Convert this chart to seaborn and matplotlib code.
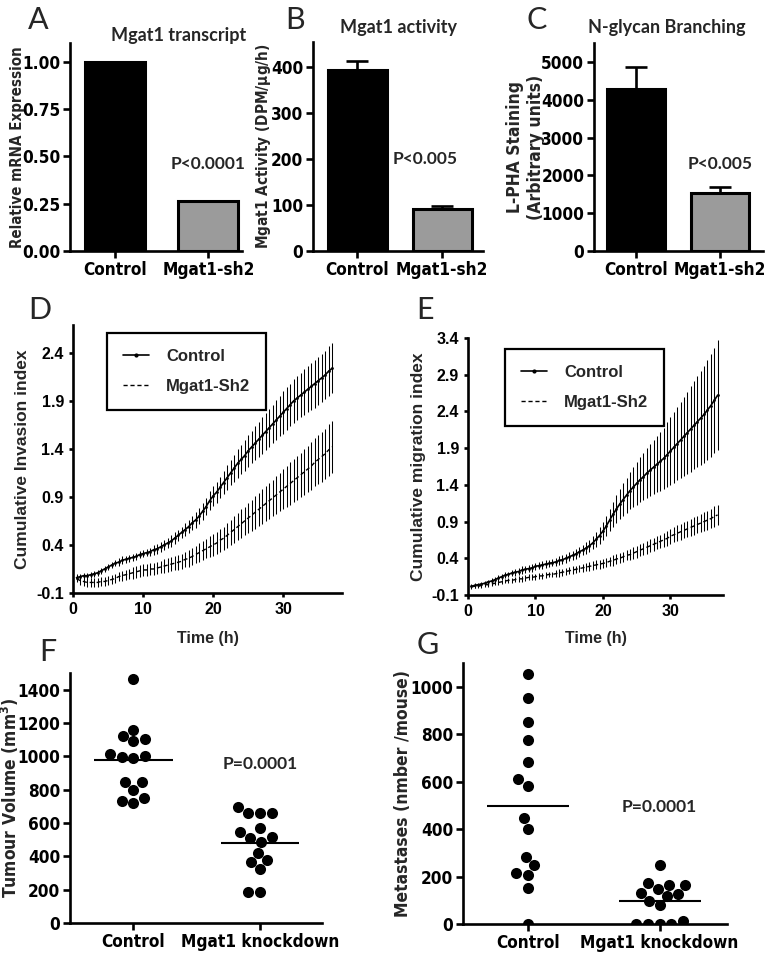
import numpy as np
import pandas as pd
import seaborn as sns
from matplotlib import pyplot as plt
from matplotlib import font_manager as fm
from matplotlib.lines import Line2D

# ---- panels A-C: bar data ----
bar_groups = ['Control', 'Mgat1-sh2']
mrna_expr = [1.00, 0.265]
mgat1_act = [395, 92]
mgat1_act_sem = [18, 6]
lpha_stain = [4280, 1530]
lpha_stain_sem = [580, 170]

# ---- panels D-E: time course (every 0.5 h) ----
time_h = np.arange(0.5, 37.5, 0.5)

inv_ctrl = [0.06, 0.07, 0.08, 0.08, 0.09, 0.10, 0.11, 0.13, 0.15, 0.17,
            0.19, 0.21, 0.22, 0.24, 0.25, 0.26, 0.27, 0.28, 0.30, 0.31,
            0.32, 0.33, 0.35, 0.36, 0.38, 0.40, 0.42, 0.44, 0.47, 0.50,
            0.53, 0.56, 0.59, 0.63, 0.66, 0.70, 0.75, 0.80, 0.86, 0.91,
            0.95, 1.00, 1.05, 1.10, 1.15, 1.20, 1.25, 1.29, 1.33, 1.38,
            1.42, 1.46, 1.50, 1.54, 1.58, 1.62, 1.66, 1.70, 1.74, 1.78,
            1.82, 1.86, 1.90, 1.93, 1.96, 1.99, 2.02, 2.05, 2.08, 2.11,
            2.14, 2.17, 2.21, 2.24]
inv_ctrl_err = [0.04, 0.03, 0.03, 0.03, 0.03, 0.03, 0.03, 0.03, 0.03, 0.03,
                0.03, 0.03, 0.04, 0.04, 0.04, 0.04, 0.04, 0.04, 0.04, 0.04,
                0.04, 0.04, 0.05, 0.05, 0.05, 0.05, 0.05, 0.06, 0.06, 0.06,
                0.06, 0.07, 0.07, 0.07, 0.08, 0.08, 0.09, 0.09, 0.10, 0.10,
                0.11, 0.11, 0.12, 0.13, 0.13, 0.14, 0.15, 0.15, 0.16, 0.17,
                0.17, 0.18, 0.18, 0.19, 0.19, 0.20, 0.20, 0.21, 0.21, 0.22,
                0.22, 0.22, 0.23, 0.23, 0.23, 0.24, 0.24, 0.24, 0.25, 0.25,
                0.25, 0.25, 0.26, 0.26]
inv_sh2 = [0.05, 0.03, 0.02, 0.01, 0.01, 0.01, 0.01, 0.02, 0.02, 0.03,
           0.04, 0.05, 0.07, 0.08, 0.09, 0.10, 0.11, 0.12, 0.13, 0.14,
           0.14, 0.15, 0.15, 0.16, 0.17, 0.18, 0.19, 0.20, 0.21, 0.22,
           0.23, 0.25, 0.26, 0.28, 0.30, 0.32, 0.34, 0.36, 0.38, 0.40,
           0.42, 0.45, 0.47, 0.50, 0.53, 0.56, 0.59, 0.62, 0.65, 0.68,
           0.71, 0.74, 0.77, 0.80, 0.83, 0.86, 0.89, 0.92, 0.95, 0.98,
           1.01, 1.04, 1.07, 1.10, 1.13, 1.16, 1.19, 1.22, 1.26, 1.29,
           1.32, 1.35, 1.39, 1.42]
inv_sh2_err = [0.04, 0.05, 0.05, 0.05, 0.05, 0.05, 0.05, 0.05, 0.05, 0.05,
               0.05, 0.05, 0.05, 0.05, 0.05, 0.05, 0.06, 0.06, 0.06, 0.06,
               0.06, 0.06, 0.06, 0.06, 0.06, 0.07, 0.07, 0.07, 0.07, 0.08,
               0.08, 0.08, 0.09, 0.09, 0.09, 0.10, 0.10, 0.10, 0.11, 0.11,
               0.11, 0.12, 0.12, 0.13, 0.13, 0.14, 0.14, 0.15, 0.15, 0.16,
               0.16, 0.17, 0.17, 0.18, 0.18, 0.19, 0.19, 0.20, 0.20, 0.21,
               0.21, 0.22, 0.22, 0.23, 0.23, 0.24, 0.24, 0.25, 0.25, 0.26,
               0.26, 0.26, 0.27, 0.27]

mig_ctrl = [0.02, 0.03, 0.04, 0.05, 0.06, 0.08, 0.09, 0.11, 0.13, 0.15,
            0.17, 0.18, 0.20, 0.21, 0.22, 0.24, 0.25, 0.26, 0.27, 0.29,
            0.30, 0.31, 0.32, 0.33, 0.34, 0.35, 0.37, 0.38, 0.40, 0.42,
            0.44, 0.46, 0.49, 0.51, 0.54, 0.57, 0.61, 0.66, 0.71, 0.77,
            0.84, 0.92, 1.00, 1.07, 1.14, 1.20, 1.26, 1.32, 1.37, 1.42,
            1.47, 1.51, 1.56, 1.60, 1.64, 1.68, 1.72, 1.76, 1.81, 1.86,
            1.91, 1.96, 2.01, 2.06, 2.11, 2.16, 2.21, 2.26, 2.31, 2.36,
            2.42, 2.48, 2.55, 2.62]
mig_ctrl_err = [0.03, 0.03, 0.03, 0.03, 0.03, 0.03, 0.04, 0.04, 0.04, 0.04,
                0.04, 0.04, 0.04, 0.05, 0.05, 0.05, 0.05, 0.05, 0.05, 0.05,
                0.05, 0.05, 0.05, 0.05, 0.05, 0.06, 0.06, 0.06, 0.06, 0.06,
                0.06, 0.07, 0.07, 0.07, 0.08, 0.08, 0.09, 0.10, 0.11, 0.12,
                0.14, 0.15, 0.17, 0.19, 0.20, 0.22, 0.24, 0.25, 0.27, 0.29,
                0.31, 0.32, 0.34, 0.35, 0.37, 0.38, 0.40, 0.42, 0.44, 0.46,
                0.48, 0.50, 0.52, 0.54, 0.56, 0.58, 0.60, 0.62, 0.64, 0.66,
                0.68, 0.70, 0.72, 0.75]
mig_sh2 = [0.01, 0.02, 0.02, 0.03, 0.04, 0.04, 0.05, 0.06, 0.07, 0.08,
           0.09, 0.10, 0.10, 0.11, 0.12, 0.12, 0.13, 0.14, 0.14, 0.15,
           0.16, 0.16, 0.17, 0.18, 0.18, 0.19, 0.20, 0.21, 0.22, 0.23,
           0.24, 0.25, 0.26, 0.27, 0.28, 0.29, 0.30, 0.31, 0.32, 0.33,
           0.34, 0.36, 0.37, 0.39, 0.40, 0.42, 0.44, 0.45, 0.47, 0.49,
           0.51, 0.53, 0.55, 0.57, 0.59, 0.61, 0.63, 0.65, 0.67, 0.70,
           0.72, 0.74, 0.76, 0.78, 0.80, 0.82, 0.84, 0.86, 0.88, 0.90,
           0.92, 0.94, 0.97, 0.99]
mig_sh2_err = [0.03, 0.03, 0.03, 0.03, 0.03, 0.03, 0.03, 0.03, 0.03, 0.03,
               0.03, 0.03, 0.03, 0.03, 0.04, 0.04, 0.04, 0.04, 0.04, 0.04,
               0.04, 0.04, 0.04, 0.04, 0.04, 0.05, 0.05, 0.05, 0.05, 0.05,
               0.05, 0.05, 0.05, 0.05, 0.05, 0.06, 0.06, 0.06, 0.06, 0.06,
               0.06, 0.06, 0.07, 0.07, 0.07, 0.07, 0.07, 0.08, 0.08, 0.08,
               0.08, 0.08, 0.09, 0.09, 0.09, 0.09, 0.09, 0.10, 0.10, 0.10,
               0.10, 0.11, 0.11, 0.11, 0.11, 0.12, 0.12, 0.12, 0.12, 0.13,
               0.13, 0.13, 0.14, 0.14]

# ---- panels F-G: per-mouse values ----
mouse_groups = ['Control', 'Mgat1 knockdown']
tumour_ctrl = [1465, 1160, 1105, 1092, 1123, 1002, 993, 998, 1013,
               845, 798, 845, 748, 720, 732]
tumour_kd = [658, 658, 658, 694, 572, 514, 508, 544, 487, 423,
             367, 381, 327, 187, 187]
mets_ctrl = [1053, 951, 850, 776, 684, 610, 583, 445, 401, 282,
             247, 208, 215, 150, 0]
mets_kd = [250, 165, 147, 163, 172, 128, 116, 130, 95, 79,
           11, 0, 0, 0, 0]


# ---- fonts: look for a narrow bold face (Prism look), else Liberation Sans ----
def weight_num(w):
    return fm.weight_dict.get(w, 400) if isinstance(w, str) else int(w)


def is_narrow(f):
    st = f.stretch
    if isinstance(st, str):
        st = fm.stretch_dict.get(st, 500)
    return st < 500 or 'Narrow' in f.name or 'Condensed' in f.name


faces = fm.fontManager.ttflist
narrow = [f for f in faces
          if weight_num(f.weight) >= 600 and f.style == 'normal' and is_narrow(f)
          and not any(k in f.name for k in ('Mono', 'Serif', 'CJK'))]
if narrow:
    NARROW = [narrow[0].name, 'DejaVu Sans']
    NARROW_STRETCH = narrow[0].stretch
    fs_scale = 1.0
else:
    NARROW = ['Liberation Sans', 'DejaVu Sans']
    NARROW_STRETCH = 'normal'
    fs_scale = 0.83

bold_names = {f.name for f in faces if weight_num(f.weight) >= 700}
TITLE_FONT = [n for n in ['Lato', 'Open Sans', 'Roboto', 'Noto Sans']
              if n in bold_names][:1] + ['DejaVu Sans']
WIDE = ['Liberation Sans', 'DejaVu Sans']

sns.set_style('ticks')
plt.rcParams['font.family'] = NARROW
plt.rcParams['font.stretch'] = NARROW_STRETCH
plt.rcParams['font.weight'] = 'bold'
plt.rcParams['axes.labelweight'] = 'bold'
plt.rcParams['axes.linewidth'] = 1.9
plt.rcParams['axes.edgecolor'] = 'black'

fig = plt.figure(figsize=(7.68, 9.58), dpi=100)


def add_ax(left, top, right, bottom):
    return fig.add_axes([left / 768, 1 - bottom / 958,
                         (right - left) / 768, (bottom - top) / 958])


def place_ylabel(ax, center_px, half_px):
    # ylabel anchored at its right edge (rotated text), figure pixel -> axes
    bbox = ax.get_position()
    left_px, width_px = bbox.x0 * 768, bbox.width * 768
    ax.yaxis.set_label_coords((center_px + half_px - left_px) / width_px, 0.5)


def style_ax(ax, size, length=5, pad=2):
    sns.despine(ax=ax)
    ax.tick_params(width=1.9, length=length, labelsize=size, colors='black',
                   pad=pad)


def bar_panel(ax, vals, errs, xlim, width, ylim, yticks, ylabel, lab_size,
              lab_x, lab_half, ptext, px, py, fmt):
    sns.barplot(x=bar_groups, y=vals, hue=bar_groups,
                palette=['black', '#9b9b9b'], edgecolor='black',
                linewidth=2.2, width=width, legend=False, ax=ax)
    if errs is not None:
        ax.errorbar(range(len(vals)), vals, yerr=[[0] * len(vals), errs],
                    fmt='none', ecolor='black', elinewidth=1.9,
                    capsize=8, capthick=1.9)
    ax.set_xlim(*xlim)
    ax.set_ylim(*ylim)
    ax.set_yticks(yticks)
    ax.set_yticklabels([fmt.format(v) for v in yticks])
    ax.set_ylabel(ylabel, fontsize=lab_size * fs_scale)
    place_ylabel(ax, lab_x, lab_half)
    ax.set_xlabel('')
    ax.text(px, py, ptext, ha='center', va='center', fontsize=12.5,
            fontweight='bold', family=TITLE_FONT, stretch='normal')
    style_ax(ax, 12.3 * fs_scale)


# A
axA = add_ax(70, 43, 242, 251)
bar_panel(axA, mrna_expr, None, (-0.48, 1.36), 0.64, (0, 1.10),
          [0, 0.25, 0.5, 0.75, 1.0], 'Relative mRNA Expression', 10.8, 18, 7,
          'P<0.0001', 1, 0.46, '{:.2f}')
# B
axB = add_ax(313, 42, 483, 251)
bar_panel(axB, mgat1_act, mgat1_act_sem, (-0.52, 1.48), 0.69, (0, 455),
          [0, 100, 200, 300, 400], 'Mgat1 Activity (DPM/$\\mathbf{\\mu}$g/h)',
          11, 266, 7, 'P<0.005', 0.8, 200, '{:.0f}')
# C
axC = add_ax(594, 43, 763, 251)
bar_panel(axC, lpha_stain, lpha_stain_sem, (-0.50, 1.51), 0.69, (0, 5500),
          [0, 1000, 2000, 3000, 4000, 5000],
          'L-PHA Staining\n(Arbitrary units)', 12.5, 527, 18, 'P<0.005', 1,
          2300, '{:.0f}')


def time_panel(ax, ctrl, ctrl_err, sh2, sh2_err, xlim, ylim, yticks,
               ylabel, lab_x, leg_anchor):
    ax.errorbar(time_h, ctrl, yerr=ctrl_err, fmt='none', ecolor='black',
                elinewidth=0.75)
    ax.errorbar(time_h, sh2, yerr=sh2_err, fmt='none', ecolor='black',
                elinewidth=0.75)
    sns.lineplot(x=time_h, y=ctrl, color='black', linewidth=1.2,
                 marker='o', markersize=2, markeredgewidth=0, ax=ax)
    sns.lineplot(x=time_h, y=sh2, color='black', linewidth=1.0,
                 linestyle=(0, (3, 2)), ax=ax)
    ax.set_xlim(*xlim)
    ax.set_ylim(*ylim)
    ax.set_xticks([0, 10, 20, 30])
    ax.set_yticks(yticks)
    ax.set_yticklabels(['{:.1f}'.format(v) for v in yticks])
    for lab in ax.get_xticklabels() + ax.get_yticklabels():
        lab.set_family(WIDE)
        lab.set_stretch('normal')
    ax.set_xlabel('Time (h)', fontsize=11.5, family=WIDE, stretch='normal')
    ax.xaxis.set_label_coords(0.5, -0.142)
    ax.set_ylabel(ylabel, fontsize=12.5, family=WIDE, stretch='normal')
    place_ylabel(ax, lab_x, 8)
    handles = [Line2D([], [], color='black', lw=1.2, marker='o', ms=2),
               Line2D([], [], color='black', lw=1.0, ls=(0, (3, 2)))]
    leg = ax.legend(handles, ['Control', 'Mgat1-Sh2'], loc='upper left',
                    bbox_to_anchor=leg_anchor, frameon=True, fancybox=False,
                    edgecolor='black', framealpha=1, borderaxespad=0,
                    prop={'family': WIDE, 'weight': 'bold', 'size': 12,
                          'stretch': 'normal'},
                    handlelength=1.6, borderpad=0.95, labelspacing=0.9,
                    handletextpad=1.0)
    leg.get_frame().set_linewidth(1.6)
    style_ax(ax, 11.5, length=3, pad=3.5)


axD = add_ax(73, 325, 342, 593)
time_panel(axD, inv_ctrl, inv_ctrl_err, inv_sh2, inv_sh2_err,
           (0, 38.4), (-0.1, 2.69), [-0.1, 0.4, 0.9, 1.4, 1.9, 2.4],
           'Cumulative Invasion index', 22, (0.126, 0.97))

axE = add_ax(468, 338, 723, 595)
time_panel(axE, mig_ctrl, mig_ctrl_err, mig_sh2, mig_sh2_err,
           (0, 37.8), (-0.1, 3.4), [-0.1, 0.4, 0.9, 1.4, 1.9, 2.4, 2.9, 3.4],
           'Cumulative migration index', 418, (0.145, 0.957))


def dot_panel(ax, ctrl, kd, xlim, ylim, yticks, ylabel, lab_x, py):
    df = pd.DataFrame({
        'group': [mouse_groups[0]] * len(ctrl) + [mouse_groups[1]] * len(kd),
        'value': list(ctrl) + list(kd),
    })
    sns.swarmplot(data=df, x='group', y='value', order=mouse_groups,
                  color='black', size=8, ax=ax)
    for i, vals in enumerate([ctrl, kd]):
        ax.hlines(np.mean(vals), i - 0.31, i + 0.31, color='black', lw=1.5)
    ax.set_xlim(*xlim)
    ax.set_ylim(*ylim)
    ax.set_yticks(yticks)
    ax.set_xlabel('')
    ax.set_ylabel(ylabel, fontsize=12.5 * fs_scale)
    place_ylabel(ax, lab_x, 7)
    ax.text(1, py, 'P=0.0001', ha='center', va='center', fontsize=12.5,
            fontweight='bold', family=TITLE_FONT, stretch='normal')
    style_ax(ax, 12.3 * fs_scale)


axF = add_ax(70, 673, 322, 923)
dot_panel(axF, tumour_ctrl, tumour_kd, (-0.5, 1.49), (0, 1500),
          range(0, 1401, 200), 'Tumour Volume (mm$^\\mathbf{3}$)', 14, 955)

axG = add_ax(463, 663, 727, 924)
dot_panel(axG, mets_ctrl, mets_kd, (-0.49, 1.51), (0, 1100),
          range(0, 1001, 200), 'Metastases (nmber /mouse)', 405, 494)

# panel letters and titles
for letter, x, y in [('A', 38, 20), ('B', 295, 20), ('C', 537, 20),
                     ('D', 40, 310), ('E', 425, 310), ('F', 48, 652),
                     ('G', 428, 645)]:
    fig.text(x / 768, 1 - y / 958, letter, ha='center', va='center',
             fontsize=22, fontweight='normal', family=TITLE_FONT,
             stretch='normal')

for title, x, y in [('Mgat1 transcript', 179, 35), ('Mgat1 activity', 399, 28),
                    ('N-glycan Branching', 667, 28)]:
    fig.text(x / 768, 1 - y / 958, title, ha='center', va='center',
             fontsize=13, fontweight='bold', family=TITLE_FONT,
             stretch='normal')

fig.savefig('out.png', dpi=100)
